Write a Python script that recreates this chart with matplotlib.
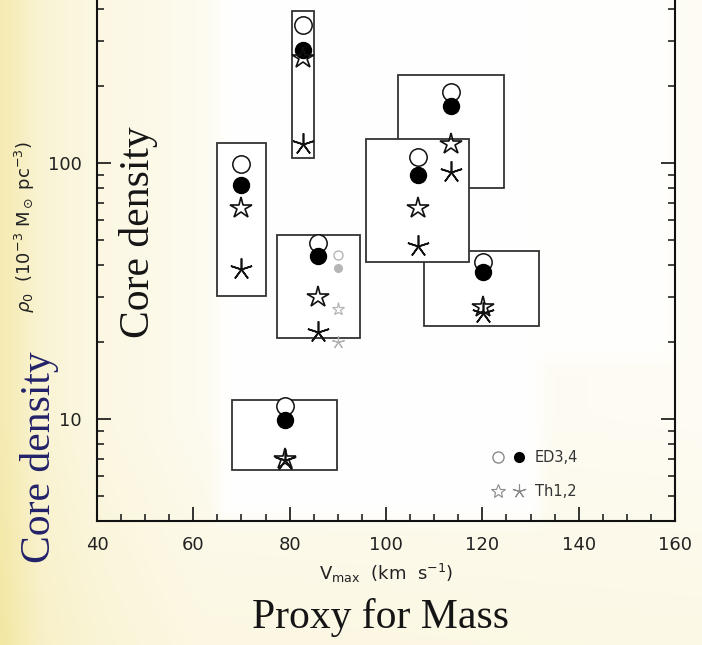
import numpy as np
import matplotlib
matplotlib.use("Agg")
import matplotlib.pyplot as plt
from matplotlib.patches import Rectangle
from matplotlib.lines import Line2D
from matplotlib.legend_handler import HandlerTuple
from matplotlib.ticker import FixedLocator, NullFormatter

# ---------------- data ----------------
# each entry: one halo group (box + 4 model points)
vmax      = [70.0, 82.7, 85.8, 79.0, 113.4, 120.1, 106.7]
ed3_rho   = [98.8, 346.0, 48.5, 11.2, 189.0, 41.1, 105.8]   # open circles
ed4_rho   = [82.0, 276.0, 43.4, 9.9, 167.6, 37.6, 89.8]     # filled circles
th1_rho   = [66.5, 256.0, 30.1, 7.0, 118.6, 27.5, 66.6]     # open stars
th2_rho   = [38.5, 119.0, 21.9, 6.9, 92.0, 25.9, 47.4]      # asterisks
box_vlo   = [65.0, 80.5, 77.3, 68.0, 102.5, 107.9, 95.8]
box_vhi   = [75.0, 85.0, 94.5, 89.9, 124.6, 131.8, 117.3]
box_rlo   = [30.3, 104.3, 20.8, 6.3, 79.6, 23.0, 40.9]
box_rhi   = [120.0, 393.0, 52.3, 11.9, 221.0, 45.4, 123.8]

# faint grey extra group
grey_v    = [90.0]
grey_ed3  = [43.6]
grey_ed4  = [39.0]
grey_th1  = [26.9]
grey_th2  = [20.0]

xticks = [40, 60, 80, 100, 120, 140, 160]
yticks = [10, 100]
ytick_labels = ["10", "100"]
legend_labels = ["ED3,4", "Th1,2"]

# ---------------- figure ----------------
W, H = 702, 645
fig = plt.figure(figsize=(W / 100, H / 100), dpi=100)


def box_blur(a, r):
    # separable box blur with edge padding
    p = np.pad(a, r, mode="edge")
    c = np.cumsum(p, axis=0)
    c = np.vstack([np.zeros((1, c.shape[1])), c])
    p = (c[2 * r + 1:, :] - c[:-2 * r - 1, :]) / (2 * r + 1)
    c = np.cumsum(p, axis=1)
    c = np.hstack([np.zeros((c.shape[0], 1)), c])
    p = (c[:, 2 * r + 1:] - c[:, :-2 * r - 1]) / (2 * r + 1)
    return p


# background (slide-like yellow tint with white panel)
xs = np.arange(W)[None, :].astype(float)
ys = np.arange(H)[:, None].astype(float)
tx = np.interp(xs, [0, 15, 40, 97, 200, 702], [0.85, 0.7, 0.45, 0.3, 0.16, 0.13])
ty = np.interp(ys, [0, 420, 645], [0.0, 0.0, 0.14])
t = np.clip(tx + ty, 0, 1) * np.ones((H, W))
panel = (xs >= 218) & (xs <= 540) & (ys < 521)
t[panel] = 0.01
panel2 = (xs > 540) & (xs <= 676) & (ys < 360)
t[panel2] = 0.03
t = box_blur(t, 10)
t = box_blur(t, 6)
yellow = np.array([243, 230, 160]) / 255.0
white = np.ones(3)
img = white[None, None, :] * (1 - t[..., None]) + yellow[None, None, :] * t[..., None]
bg = fig.add_axes([0, 0, 1, 1], zorder=-10)
bg.imshow(img, aspect="auto", extent=[0, W, H, 0], interpolation="bilinear")
bg.axis("off")

ax = fig.add_axes([97 / W, (H - 521) / H, (675 - 97) / W, 521 / H])
ax.set_facecolor("none")
ax.set_yscale("log")
ax.set_xlim(40, 160)
ax.set_ylim(4.0, 433)

# boxes
for i in range(len(vmax)):
    ax.add_patch(Rectangle((box_vlo[i], box_rlo[i]), box_vhi[i] - box_vlo[i],
                           box_rhi[i] - box_rlo[i], facecolor="white",
                           edgecolor="#333333", lw=1.3, zorder=2 + 0.01 * i))

# points
ax.plot(vmax, ed3_rho, ls="none", marker="o", ms=12.5, mfc="white", mec="#111111", mew=1.1, zorder=5)
ax.plot(vmax, ed4_rho, ls="none", marker="o", ms=11.5, mfc="black", mec="black", mew=1.0, zorder=6)
ax.plot(vmax, th1_rho, ls="none", marker="*", ms=16, mfc="none", mec="#111111", mew=1.2, zorder=7)
ax.plot(vmax, th2_rho, ls="none", marker=(5, 2, 0), ms=16, mec="#111111", mew=1.2, zorder=8)

grey = "#b5b5b5"
ax.plot(grey_v, grey_ed3, ls="none", marker="o", ms=6.5, mfc="white", mec=grey, mew=1.0, zorder=5)
ax.plot(grey_v, grey_ed4, ls="none", marker="o", ms=5.5, mfc=grey, mec=grey, zorder=5)
ax.plot(grey_v, grey_th1, ls="none", marker="*", ms=9.5, mfc="none", mec=grey, mew=0.9, zorder=5)
ax.plot(grey_v, grey_th2, ls="none", marker=(5, 2, 0), ms=9.5, mec=grey, mew=0.9, zorder=5)

# legend
lg = "#8a8a8a"
h1 = Line2D([], [], ls="none", marker="o", ms=8, mfc="white", mec=lg, mew=1.0)
h2 = Line2D([], [], ls="none", marker="o", ms=7, mfc="black", mec="black")
h3 = Line2D([], [], ls="none", marker="*", ms=10, mfc="none", mec=lg, mew=0.8)
h4 = Line2D([], [], ls="none", marker=(5, 2, 0), ms=10, mec=lg, mew=0.8)
leg = ax.legend([(h1, h2), (h3, h4)], legend_labels,
                handler_map={tuple: HandlerTuple(ndivide=None, pad=0)},
                loc="upper left", bbox_to_anchor=(0.674, 0.136), frameon=False,
                borderpad=0, borderaxespad=0, handlelength=3.0, handletextpad=0.3,
                labelspacing=1.3, prop={"family": "DejaVu Sans", "size": 10.5})
for txt in leg.get_texts():
    txt.set_color("#333333")

# axes styling
for side in ["left", "right", "bottom"]:
    ax.spines[side].set_linewidth(1.5)
    ax.spines[side].set_color("#111111")
ax.spines["top"].set_visible(False)

ax.xaxis.set_major_locator(FixedLocator(xticks))
ax.xaxis.set_minor_locator(FixedLocator(np.arange(40, 161, 5)))
ax.set_xticklabels([str(v) for v in xticks])
ax.yaxis.set_major_locator(FixedLocator(yticks))
ax.set_yticklabels(ytick_labels)
ax.yaxis.set_minor_locator(FixedLocator([m * 10.0 ** e for e in range(0, 3) for m in range(2, 10)]))
ax.yaxis.set_minor_formatter(NullFormatter())

ax.tick_params(which="both", direction="in", top=False, right=True, color="#111111",
               labelsize=13, labelcolor="#222222", pad=11)
ax.tick_params(which="major", length=10, width=1.2)
ax.tick_params(which="minor", length=5, width=1.1)
for lab in ax.get_xticklabels() + ax.get_yticklabels():
    lab.set_family("DejaVu Sans")

ax.set_xlabel(r"V$_{\rm max}$  (km  s$^{-1}$)", fontsize=13, color="#222222",
              family="DejaVu Sans", va="center")
ax.xaxis.set_label_coords((386 - 97) / 578, -(573 - 521) / 521)
ax.set_ylabel(r"$\rho_0$  (10$^{-3}$ M$_\odot$ pc$^{-3}$)", fontsize=13, color="#222222",
              family="DejaVu Sans", va="center")
ax.yaxis.set_label_coords((25 - 97) / 578, (521 - 227) / 521)

# slide annotations
fig.text(138 / W, 1 - 232 / H, "Core density", rotation=90, ha="center", va="center",
         fontsize=30, family="Liberation Serif", color="#151515")
fig.text(40 / W, 1 - 457 / H, "Core density", rotation=90, ha="center", va="center",
         fontsize=30, family="Liberation Serif", color="#23226a")
fig.text(381 / W, 1 - 628 / H, "Proxy for Mass", ha="center", va="baseline",
         fontsize=30, family="Liberation Serif", color="#151515")

fig.savefig("out.png", dpi=100)
